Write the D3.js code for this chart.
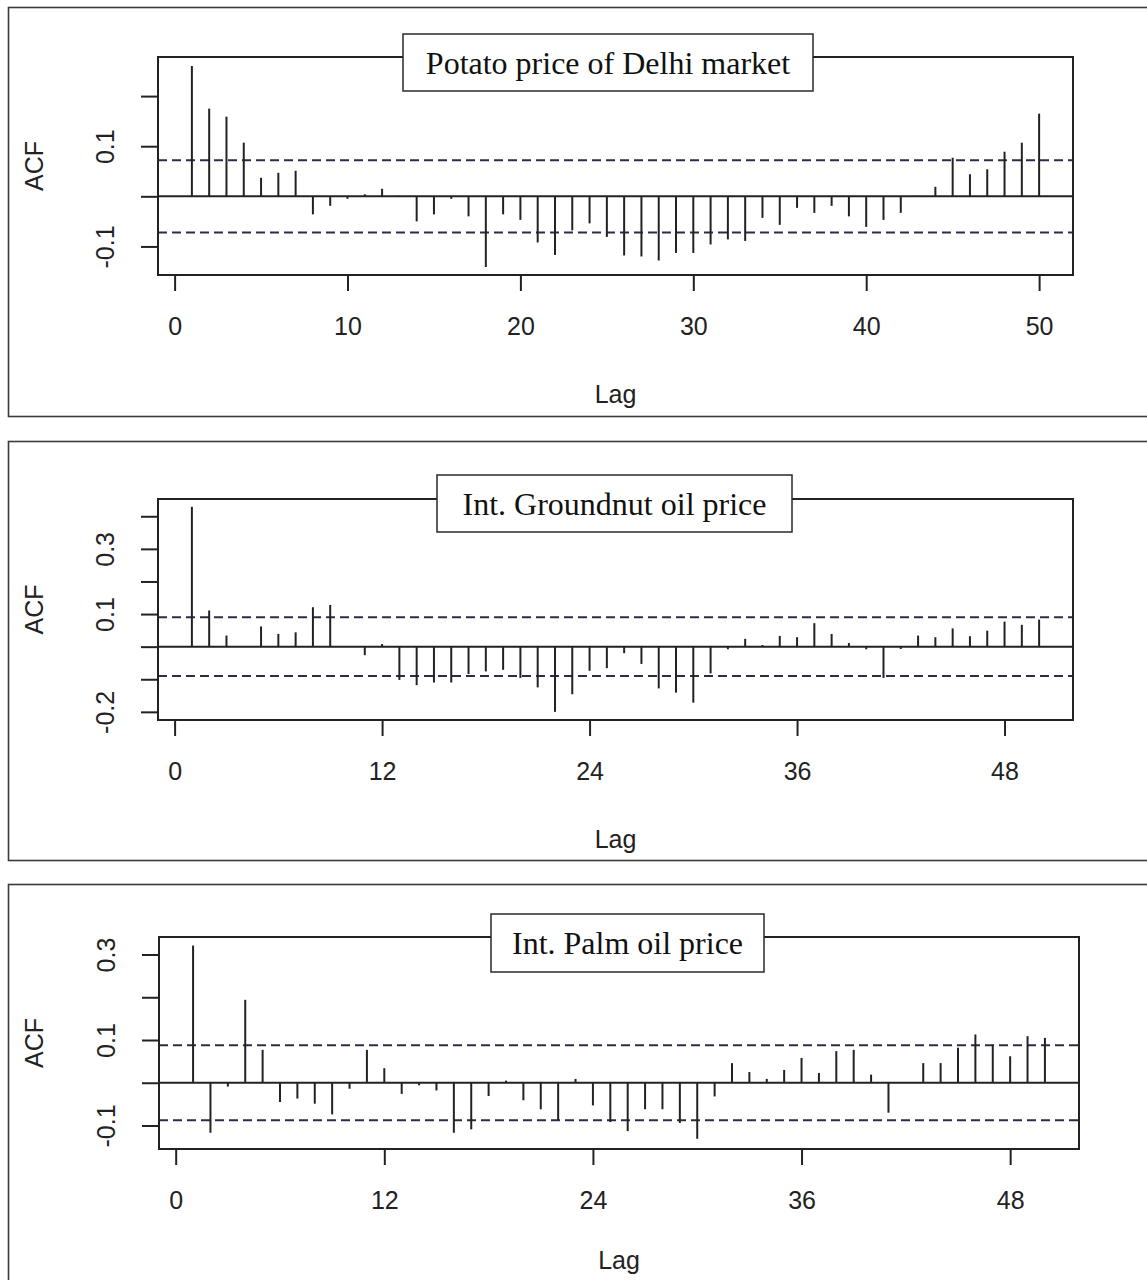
<!DOCTYPE html>
<html>
<head>
<meta charset="utf-8">
<script src="https://cdn.jsdelivr.net/npm/d3@7"></script>
<style>
  html, body { margin: 0; padding: 0; background: #ffffff; }
  svg { display: block; }
</style>
</head>
<body>
<svg id="chart" width="1147" height="1280"></svg>
<script>
// Autocorrelation (ACF) of three price series, lags 1..50
const lags = d3.range(1, 51);

const potatoAcf = [
  0.260, 0.175, 0.159, 0.107, 0.037, 0.047, 0.051, -0.036, -0.019, -0.005,
  0.004, 0.015, 0.001, -0.050, -0.036, -0.005, -0.040, -0.141, -0.036, -0.047,
  -0.092, -0.117, -0.068, -0.054, -0.081, -0.118, -0.120, -0.128, -0.113, -0.113,
  -0.096, -0.086, -0.089, -0.043, -0.057, -0.023, -0.033, -0.019, -0.040, -0.061,
  -0.047, -0.033, 0.001, 0.019, 0.077, 0.044, 0.054, 0.089, 0.107, 0.165
];

const groundnutAcf = [
  0.429, 0.111, 0.034, 0.002, 0.062, 0.039, 0.044, 0.121, 0.128, 0.001,
  -0.026, 0.008, -0.102, -0.118, -0.110, -0.110, -0.084, -0.076, -0.071, -0.096,
  -0.125, -0.200, -0.146, -0.074, -0.066, -0.020, -0.053, -0.128, -0.141, -0.172,
  -0.082, -0.008, 0.024, 0.005, 0.033, 0.029, 0.072, 0.039, 0.011, -0.008,
  -0.096, -0.007, 0.034, 0.029, 0.056, 0.032, 0.049, 0.077, 0.067, 0.083
];

const palmAcf = [
  0.321, -0.117, -0.009, 0.194, 0.077, -0.045, -0.037, -0.049, -0.074, -0.014,
  0.077, 0.034, -0.026, -0.006, -0.018, -0.117, -0.109, -0.031, 0.005, -0.041,
  -0.062, -0.087, 0.009, -0.053, -0.092, -0.113, -0.062, -0.062, -0.094, -0.131,
  -0.032, 0.046, 0.025, 0.009, 0.030, 0.058, 0.023, 0.074, 0.077, 0.019,
  -0.070, 0.001, 0.046, 0.046, 0.082, 0.113, 0.089, 0.062, 0.109, 0.105
];

// 95% confidence bounds (±) for each series
const ciBounds = [0.072, 0.090, 0.088];

const titles = ["Potato price of Delhi market", "Int. Groundnut oil price", "Int. Palm oil price"];

// Axis ticks and labels (blank entries are ticks without a label)
const xTicks = [[0, 10, 20, 30, 40, 50], [0, 12, 24, 36, 48], [0, 12, 24, 36, 48]];
const yTicks = [
  [-0.1, 0, 0.1, 0.2],
  [-0.2, -0.1, 0, 0.1, 0.2, 0.3, 0.4],
  [-0.1, 0, 0.1, 0.2, 0.3]
];
const yTickLabels = [
  ["-0.1", "", "0.1", ""],
  ["-0.2", "", "", "0.1", "", "0.3", ""],
  ["-0.1", "", "0.1", "", "0.3"]
];
const yLimits = [[-0.157, 0.278], [-0.225, 0.453], [-0.155, 0.341]];

// Page layout for the three stacked panels
const panels = [
  { values: potatoAcf,    frame: { y0: 7.5,   y1: 416.5 }, lagGap: 128, box: { l: 158, r: 1073, t: 57,  b: 275 },  title: { x: 403, y: 34,  w: 410, h: 57 } },
  { values: groundnutAcf, frame: { y0: 441.5, y1: 860.5 }, lagGap: 128, box: { l: 158, r: 1073, t: 499, b: 720 },  title: { x: 437, y: 475, w: 355, h: 57 } },
  { values: palmAcf,      frame: { y0: 884.5, y1: 1300 },  lagGap: 120, box: { l: 159, r: 1079, t: 937, b: 1149 }, title: { x: 491, y: 914, w: 273, h: 58 } }
];

const ink = "#222222";
const sans = "'Liberation Sans', Arial, Helvetica, sans-serif";
const serif = "'Liberation Serif', 'Times New Roman', Times, serif";

const svg = d3.select("#chart");
svg.append("rect").attr("width", 1147).attr("height", 1280).attr("fill", "#ffffff");

panels.forEach((p, i) => {
  const g = svg.append("g");
  const box = p.box;

  // outer frame around the panel
  g.append("rect")
    .attr("x", 8.5).attr("y", p.frame.y0)
    .attr("width", 1160).attr("height", p.frame.y1 - p.frame.y0)
    .attr("fill", "none").attr("stroke", "#3a3a3a").attr("stroke-width", 1.6);

  // lag span padded by 4% on each side
  const pad = 0.04 * (lags[lags.length - 1] - lags[0]);
  const x = d3.scaleLinear()
    .domain([lags[0] - pad, lags[lags.length - 1] + pad])
    .range([box.l, box.r]);
  const y = d3.scaleLinear().domain(yLimits[i]).range([box.b, box.t]);

  // x axis
  const xAxis = g.append("g")
    .attr("transform", `translate(0,${box.b})`)
    .call(d3.axisBottom(x).tickValues(xTicks[i]).tickSize(16).tickFormat(d3.format("d")));
  xAxis.select(".domain").remove();
  xAxis.selectAll(".tick line").attr("stroke", ink).attr("stroke-width", 2);
  xAxis.selectAll(".tick text")
    .attr("y", 60).attr("dy", 0)
    .attr("fill", ink).attr("font-family", sans).attr("font-size", 25);

  // y axis with rotated labels
  const labels = yTickLabels[i];
  const yAxis = g.append("g")
    .attr("transform", `translate(${box.l},0)`)
    .call(d3.axisLeft(y).tickValues(yTicks[i]).tickSize(17)
      .tickFormat((d, k) => labels[k]));
  yAxis.select(".domain").remove();
  yAxis.selectAll(".tick line").attr("stroke", ink).attr("stroke-width", 2);
  yAxis.selectAll(".tick text")
    .attr("transform", "rotate(-90)")
    .attr("x", 0).attr("y", -44).attr("dy", 0)
    .attr("text-anchor", "middle")
    .attr("fill", ink).attr("font-family", sans).attr("font-size", 25);

  // zero line
  g.append("line")
    .attr("x1", box.l).attr("x2", box.r)
    .attr("y1", y(0)).attr("y2", y(0))
    .attr("stroke", ink).attr("stroke-width", 2);

  // confidence bounds
  [ciBounds[i], -ciBounds[i]].forEach(c => {
    g.append("line")
      .attr("x1", box.l).attr("x2", box.r)
      .attr("y1", y(c)).attr("y2", y(c))
      .attr("stroke", "#2c2c4a").attr("stroke-width", 2)
      .attr("stroke-dasharray", "9,5");
  });

  // ACF spikes
  g.append("g").selectAll("line")
    .data(p.values)
    .join("line")
    .attr("x1", (d, k) => x(lags[k])).attr("x2", (d, k) => x(lags[k]))
    .attr("y1", y(0)).attr("y2", d => y(d))
    .attr("stroke", ink).attr("stroke-width", 2);

  // plot box
  g.append("rect")
    .attr("x", box.l).attr("y", box.t)
    .attr("width", box.r - box.l).attr("height", box.b - box.t)
    .attr("fill", "none").attr("stroke", ink).attr("stroke-width", 2);

  // axis titles
  g.append("text")
    .attr("x", (box.l + box.r) / 2).attr("y", box.b + p.lagGap)
    .attr("text-anchor", "middle")
    .attr("fill", ink).attr("font-family", sans).attr("font-size", 25)
    .text("Lag");
  g.append("text")
    .attr("transform", `translate(43,${(box.t + box.b) / 2}) rotate(-90)`)
    .attr("text-anchor", "middle")
    .attr("fill", ink).attr("font-family", sans).attr("font-size", 25)
    .text("ACF");

  // series title in a boxed label
  const t = p.title;
  g.append("rect")
    .attr("x", t.x).attr("y", t.y).attr("width", t.w).attr("height", t.h)
    .attr("fill", "#ffffff").attr("stroke", "#2a2a2a").attr("stroke-width", 1.5);
  g.append("text")
    .attr("x", t.x + t.w / 2).attr("y", t.y + 40)
    .attr("text-anchor", "middle")
    .attr("fill", "#111111").attr("font-family", serif).attr("font-size", 32)
    .text(titles[i]);
});
</script>
</body>
</html>
